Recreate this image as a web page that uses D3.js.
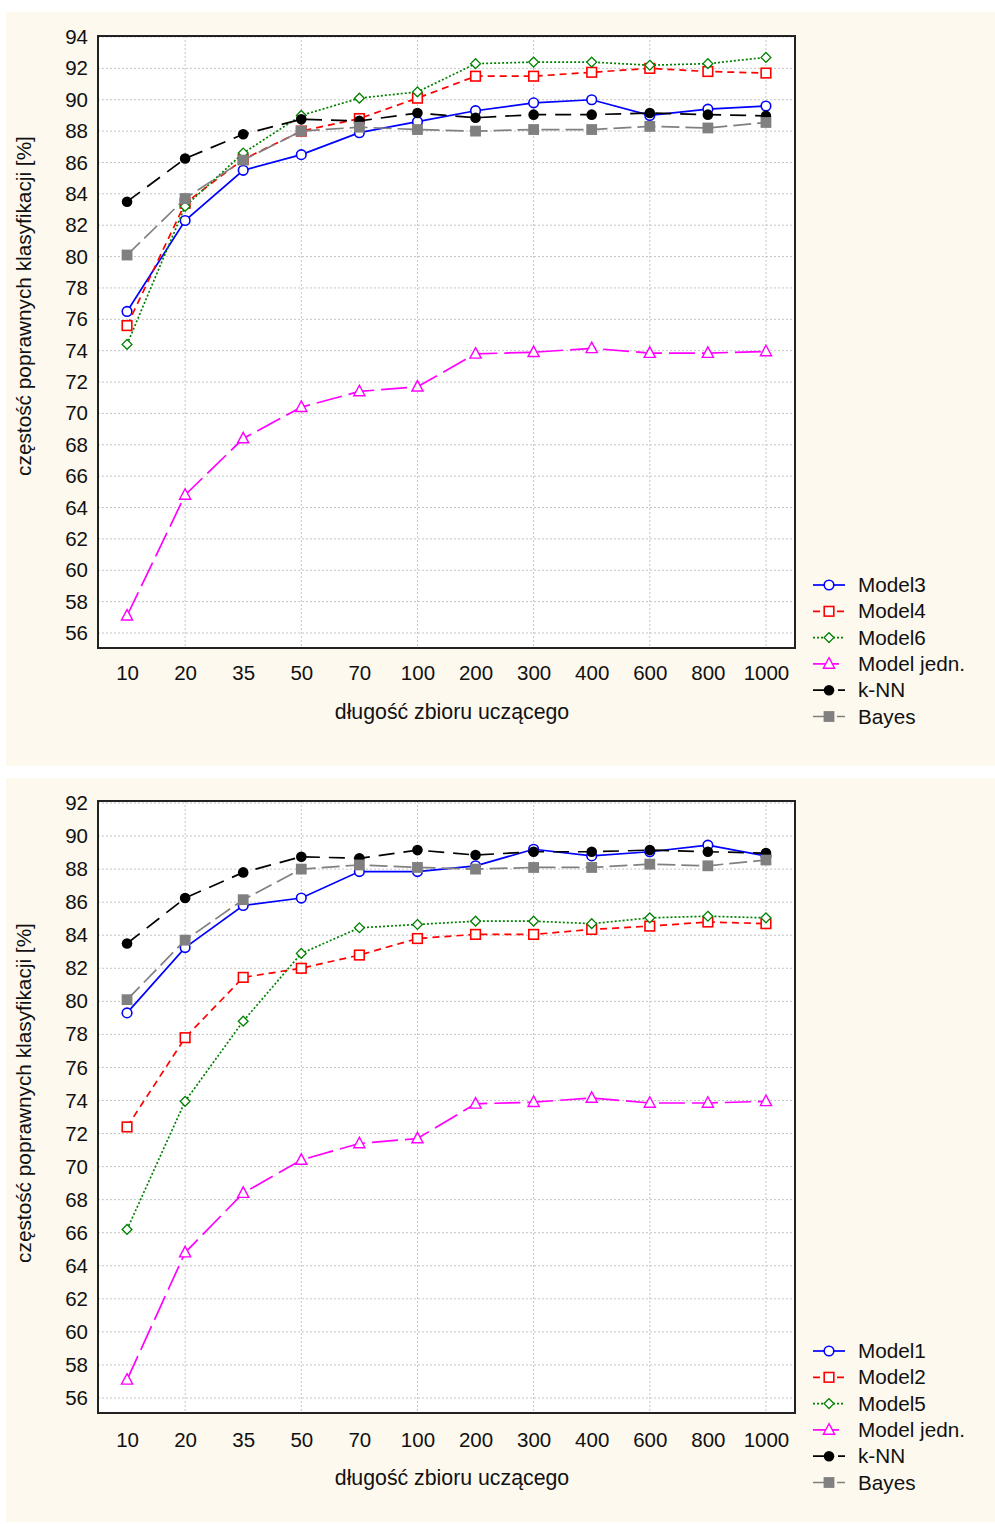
<!DOCTYPE html>
<html><head><meta charset="utf-8">
<script src="https://cdn.jsdelivr.net/npm/d3@7"></script>
<style>
html,body{margin:0;padding:0;background:#fff;}
svg{display:block;}
text{font-family:"Liberation Sans",Arial,sans-serif;fill:#111;}
</style></head>
<body>
<script>
const categories = ["10","20","35","50","70","100","200","300","400","600","800","1000"];
const gridCategories = ["20","50","100","300","600","1000"];

// top chart series
const model3 = [76.5, 82.3, 85.5, 86.5, 87.9, 88.6, 89.3, 89.8, 90.0, 89.0, 89.4, 89.6];
const model4 = [75.6, 83.4, 86.2, 88.0, 88.8, 90.1, 91.5, 91.5, 91.75, 92.0, 91.8, 91.7];
const model6 = [74.4, 83.2, 86.6, 89.0, 90.1, 90.5, 92.3, 92.4, 92.4, 92.2, 92.3, 92.7];
// bottom chart series
const model1 = [79.3, 83.25, 85.8, 86.25, 87.85, 87.85, 88.2, 89.2, 88.8, 89.05, 89.45, 88.8];
const model2 = [72.4, 77.8, 81.45, 82.0, 82.8, 83.8, 84.05, 84.05, 84.35, 84.55, 84.8, 84.7];
const model5 = [66.2, 73.95, 78.8, 82.9, 84.45, 84.65, 84.85, 84.85, 84.7, 85.05, 85.15, 85.05];
// shared series
const modelJedn = [57.1, 64.8, 68.4, 70.4, 71.4, 71.7, 73.8, 73.9, 74.15, 73.85, 73.85, 73.95];
const knn = [83.5, 86.25, 87.8, 88.75, 88.65, 89.15, 88.85, 89.05, 89.05, 89.15, 89.05, 88.97];
const bayes = [80.1, 83.7, 86.15, 88.0, 88.25, 88.1, 88.0, 88.1, 88.1, 88.3, 88.2, 88.55];

const topTicks = d3.range(56, 95, 2);
const bottomTicks = d3.range(56, 93, 2);

const topLabels = ["Model3","Model4","Model6","Model jedn.","k-NN","Bayes"];
const bottomLabels = ["Model1","Model2","Model5","Model jedn.","k-NN","Bayes"];

const xTitle = "długość zbioru uczącego";
const yTitle = "częstość poprawnych klasyfikacji [%]";

const styles = [
  {color:"#0000ff", dash:null, marker:"circle"},
  {color:"#ff0000", dash:"7,5", marker:"square"},
  {color:"#008000", dash:"2,2", marker:"diamond"},
  {color:"#ff00ff", dash:"26,7", marker:"triangle"},
  {color:"#000000", dash:"16,9", marker:"dot"},
  {color:"#808080", dash:"18,6", marker:"fsquare"}
];

const W = 995, H = 1524;
const svg = d3.select("body").append("svg").attr("width", W).attr("height", H);

function drawMarker(g, type, color, x, y) {
  if (type === "circle") {
    g.append("circle").attr("cx", x).attr("cy", y).attr("r", 4.8)
      .attr("fill", "#fff").attr("stroke", color).attr("stroke-width", 1.6);
  } else if (type === "square") {
    g.append("rect").attr("x", x-4.8).attr("y", y-4.8).attr("width", 9.6).attr("height", 9.6)
      .attr("fill", "#fff").attr("stroke", color).attr("stroke-width", 1.6);
  } else if (type === "diamond") {
    g.append("path").attr("d", `M${x},${y-4.9}L${x+4.9},${y}L${x},${y+4.9}L${x-4.9},${y}Z`)
      .attr("fill", "#fff").attr("stroke", color).attr("stroke-width", 1.3);
  } else if (type === "triangle") {
    g.append("path").attr("d", `M${x},${y-6.2}L${x+5.6},${y+4.3}L${x-5.6},${y+4.3}Z`)
      .attr("fill", "#fff").attr("stroke", color).attr("stroke-width", 1.4);
  } else if (type === "dot") {
    g.append("circle").attr("cx", x).attr("cy", y).attr("r", 5.3).attr("fill", color);
  } else if (type === "fsquare") {
    g.append("rect").attr("x", x-5.4).attr("y", y-5.4).attr("width", 10.8).attr("height", 10.8)
      .attr("fill", color);
  }
}

function drawPanel(opts) {
  const g = svg.append("g").attr("transform", `translate(0,${opts.top})`);
  g.append("rect").attr("x", 6).attr("y", 0).attr("width", W-6).attr("height", opts.height).attr("fill", "#fdf9ee");

  const boxL = 98, boxR = 795, boxT = opts.boxT, boxB = opts.boxB;
  const x = d3.scalePoint().domain(categories).range([boxL, boxR]).padding(0.5);
  const y = d3.scaleLinear().domain(opts.domain).range(opts.range);

  g.append("rect").attr("x", boxL).attr("y", boxT).attr("width", boxR-boxL).attr("height", boxB-boxT).attr("fill", "#fff");

  // grid
  g.append("g").selectAll("line").data(opts.ticks).join("line")
    .attr("x1", boxL).attr("x2", boxR).attr("y1", d => y(d)).attr("y2", d => y(d))
    .attr("stroke", "#c4c4c4").attr("stroke-width", 1).attr("stroke-dasharray", "2,2");
  g.append("g").selectAll("line").data(gridCategories).join("line")
    .attr("x1", d => x(d)).attr("x2", d => x(d)).attr("y1", boxT).attr("y2", boxB)
    .attr("stroke", "#c4c4c4").attr("stroke-width", 1).attr("stroke-dasharray", "2,2");

  // y axis labels
  const yAxis = d3.axisLeft(y).tickValues(opts.ticks).tickSize(0).tickPadding(0).tickFormat(d3.format("d"));
  const ya = g.append("g").attr("transform", `translate(88,0)`).call(yAxis);
  ya.select(".domain").remove();
  ya.selectAll("text").attr("font-size", 20.5).attr("font-family", "Liberation Sans, Arial, sans-serif").attr("fill", "#111");

  // x axis labels
  const xAxis = d3.axisBottom(x).tickSize(0).tickPadding(0);
  const xa = g.append("g").attr("transform", `translate(0,${opts.xLabelY})`).call(xAxis);
  xa.select(".domain").remove();
  xa.selectAll("text").attr("font-size", 20.5).attr("font-family", "Liberation Sans, Arial, sans-serif").attr("fill", "#111").attr("dy", "0");

  g.append("text").attr("x", 452).attr("y", opts.xTitleY).attr("text-anchor", "middle")
    .attr("font-size", 21.3).text(xTitle);
  g.append("text").attr("transform", `translate(31,${opts.yTitleC}) rotate(-90)`).attr("text-anchor", "middle")
    .attr("font-size", 20.8).text(yTitle);

  // series
  const clip = g.append("g");
  opts.series.forEach((vals, i) => {
    const st = styles[i];
    const sg = clip.append("g");
    const line = d3.line().x((d, j) => x(categories[j])).y(d => y(d));
    sg.append("path").attr("d", line(vals)).attr("fill", "none").attr("stroke", st.color)
      .attr("stroke-width", 1.7).attr("stroke-dasharray", st.dash);
    vals.forEach((v, j) => drawMarker(sg, st.marker, st.color, x(categories[j]), y(v)));
  });

  // frame
  g.append("rect").attr("x", boxL).attr("y", boxT).attr("width", boxR-boxL).attr("height", boxB-boxT)
    .attr("fill", "none").attr("stroke", "#222").attr("stroke-width", 2);

  // legend
  opts.labels.forEach((lab, i) => {
    const st = styles[i];
    const cy = opts.legendTop + i * 26.3;
    const lg = g.append("g");
    lg.append("line").attr("x1", 813).attr("x2", 845).attr("y1", cy).attr("y2", cy)
      .attr("stroke", st.color).attr("stroke-width", 1.7).attr("stroke-dasharray", st.dash);
    drawMarker(lg, st.marker, st.color, 829, cy);
    lg.append("text").attr("x", 858).attr("y", cy + 7).attr("font-size", 20.7).text(lab);
  });
}

drawPanel({
  top: 12, height: 754, boxT: 24, boxB: 636,
  domain: [56, 94], range: [621, 25], ticks: topTicks,
  xLabelY: 668, xTitleY: 707, yTitleC: 294, legendTop: 573,
  series: [model3, model4, model6, modelJedn, knn, bayes], labels: topLabels
});
drawPanel({
  top: 778, height: 744, boxT: 23, boxB: 635,
  domain: [56, 92], range: [620, 25], ticks: bottomTicks,
  xLabelY: 669, xTitleY: 707, yTitleC: 315, legendTop: 573,
  series: [model1, model2, model5, modelJedn, knn, bayes], labels: bottomLabels
});
</script>
</body></html>
